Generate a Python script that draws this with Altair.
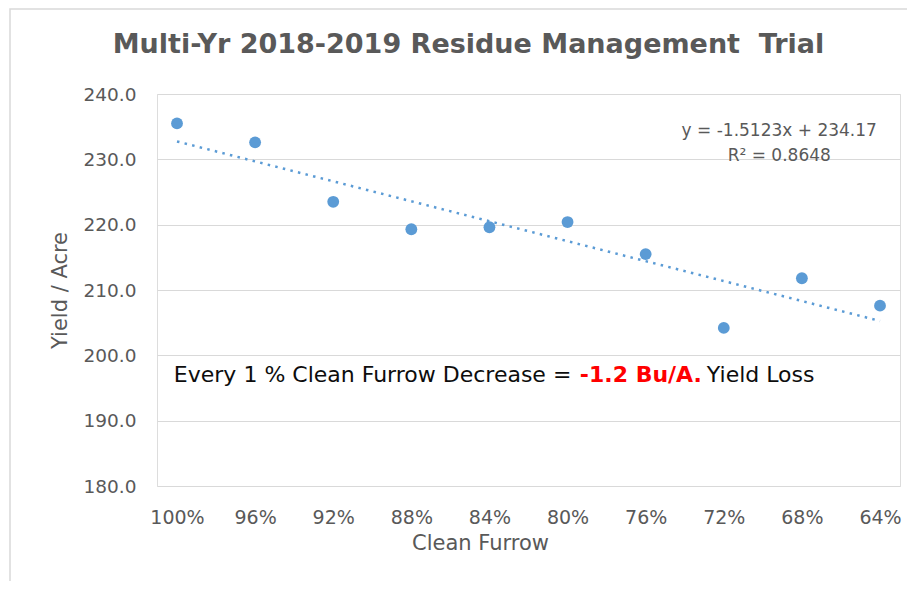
import altair as alt
import pandas as pd

# ---- data ----
labels = ["100%", "96%", "92%", "88%", "84%", "80%", "76%", "72%", "68%", "64%"]
yields = [235.5, 232.6, 223.5, 219.3, 219.6, 220.4, 215.5, 204.2, 211.8, 207.6]
y_ticks = [180, 190, 200, 210, 220, 230, 240]
eq_lines = ["y = -1.5123x + 234.17", "R\u00b2 = 0.8648"]
note_black = "Every 1 % Clean Furrow Decrease ="
note_red = "-1.2 Bu/A."
note_tail = "Yield Loss"
title_text = "Multi-Yr 2018-2019 Residue Management\u00a0 Trial"

df = pd.DataFrame({"idx": list(range(1, len(labels) + 1)), "label": labels, "yield": yields})

BLUE = "#5B9BD5"
GRAY = "#595959"
FONT = "DejaVu Sans"

label_arr = "[" + ",".join("'" + l + "'" for l in labels) + "]"

x_scale = alt.Scale(domain=[0.744, 10.256], nice=False, zero=False)
y_scale = alt.Scale(domain=[180, 240], nice=False, zero=False)

x_enc = alt.X(
    "idx:Q",
    scale=x_scale,
    axis=alt.Axis(
        values=list(range(1, len(labels) + 1)),
        labelExpr=label_arr + "[datum.value-1]",
        grid=False, domain=False, ticks=False,
        labelFont=FONT, labelFontSize=19, labelColor=GRAY, labelPadding=22,
        title="Clean Furrow", titleFont=FONT, titleFontSize=21, titleColor=GRAY,
        titleFontWeight="normal", titleX=323, titleY=57, titleBaseline="middle",
    ),
)
y_enc = alt.Y(
    "yield:Q",
    scale=y_scale,
    axis=alt.Axis(
        values=y_ticks, format=".1f",
        grid=True, gridColor="#d9d9d9", gridWidth=1.2,
        domain=False, ticks=False,
        labelFont=FONT, labelFontSize=18.5, labelColor=GRAY, labelPadding=21,
        title="Yield / Acre", titleFont=FONT, titleFontSize=21, titleColor=GRAY,
        titleFontWeight="normal", titleX=-97, titleY=196, titleBaseline="middle",
        titleAngle=-90,
    ),
)

base = alt.Chart(df)

frame = base.mark_rect(fill=None, stroke="#d9d9d9", strokeWidth=1.5).encode(
    x=alt.value(-147), x2=alt.value(790), y=alt.value(-85), y2=alt.value(560)
).transform_filter("datum.idx == 1")

points = base.mark_circle(size=140, color=BLUE, opacity=1).encode(x=x_enc, y=y_enc)

trend = base.transform_regression("idx", "yield").mark_line(
    color=BLUE, strokeWidth=2.5, strokeDash=[2.5, 5.3]
).encode(x=alt.X("idx:Q", scale=x_scale), y=alt.Y("yield:Q", scale=y_scale))

eq = alt.Chart(pd.DataFrame({"t": [eq_lines]})).mark_text(
    font=FONT, fontSize=17, color=GRAY, align="center", baseline="middle", lineHeight=25
).encode(x=alt.datum(8.71, scale=x_scale), y=alt.datum(234.41, scale=y_scale), text="t:N")

note_df = pd.DataFrame({"a": [note_black], "b": [note_red], "c": [note_tail]})
nx = alt.datum(0.96, scale=x_scale)
ny = alt.datum(197.0, scale=y_scale)
n1 = alt.Chart(note_df).mark_text(
    font=FONT, fontSize=22, color="#0d0d0d", align="left", baseline="middle"
).encode(x=nx, y=ny, text="a:N")
n2 = alt.Chart(note_df).mark_text(
    font=FONT, fontSize=22, fontWeight="bold", color="#ff0000", align="left", baseline="middle", dx=406
).encode(x=nx, y=ny, text="b:N")
n3 = alt.Chart(note_df).mark_text(
    font=FONT, fontSize=22, color="#0d0d0d", align="left", baseline="middle", dx=533
).encode(x=nx, y=ny, text="c:N")

chart = alt.layer(frame, trend, points, eq, n1, n2, n3).properties(
    width=743,
    height=392,
    autosize=alt.AutoSizeParams(type="none"),
    padding={"left": 149, "top": 86, "right": 7, "bottom": 95},
    title=alt.TitleParams(
        text=title_text, font=FONT, fontSize=27, fontWeight="bold", color=GRAY,
        anchor="middle", dx=-60, offset=-51, frame="group",
    ),
).configure_view(stroke="transparent", strokeWidth=0).configure(background="white")

chart.save("out.html", embed_options={"renderer": "svg", "actions": False})
